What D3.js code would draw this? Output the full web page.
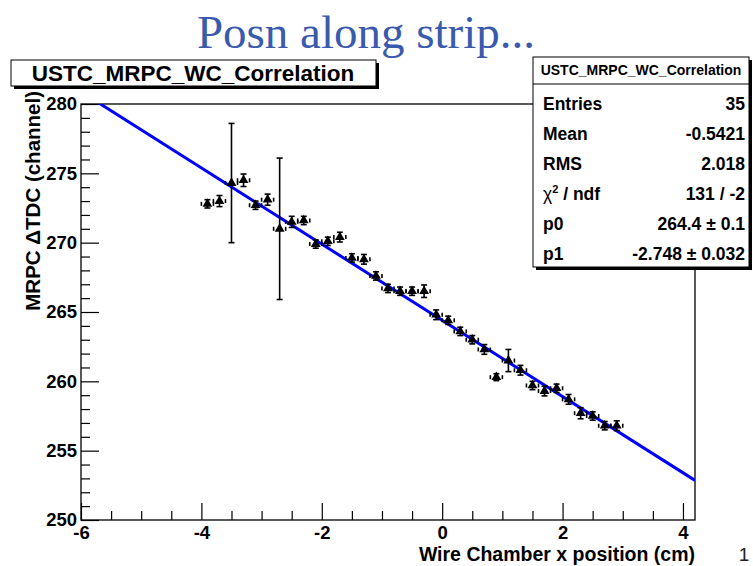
<!DOCTYPE html>
<html><head><meta charset="utf-8">
<script src="https://cdn.jsdelivr.net/npm/d3@7"></script>
<style>body{margin:0;background:#fff;overflow:hidden}</style>
</head><body>
<svg id="c" width="753" height="566"></svg>
<script>
// ---- data ----
const xValues = [-3.9,-3.7,-3.5,-3.3,-3.1,-2.9,-2.7,-2.5,-2.3,-2.1,-1.9,-1.7,-1.5,-1.3,-1.1,-0.9,-0.7,-0.5,-0.3,-0.1,0.1,0.3,0.5,0.7,0.9,1.1,1.3,1.5,1.7,1.9,2.1,2.3,2.5,2.7,2.9];
const yValues = [272.8,273.0,274.3,274.5,272.7,273.1,271.0,271.5,271.6,269.9,270.1,270.4,268.9,268.8,267.6,266.7,266.5,266.5,266.5,264.8,264.4,263.6,263.0,262.3,260.3,261.5,260.8,259.7,259.3,259.5,258.7,257.7,257.5,256.8,256.8];
const yErrors = [0.3,0.4,4.3,0.45,0.3,0.4,5.1,0.4,0.3,0.3,0.3,0.35,0.3,0.35,0.3,0.3,0.3,0.3,0.45,0.35,0.3,0.3,0.3,0.35,0.25,0.8,0.35,0.3,0.35,0.3,0.35,0.4,0.3,0.3,0.35];
const xErrors = xValues.map(() => 0.1);
const xTickLabels = [-6,-4,-2,0,2,4];
const yTickLabels = [250,255,260,265,270,275,280];
const fitP0 = 264.4, fitP1 = -2.748;
const statsLabels = ["Entries","Mean","RMS","χ2 / ndf","p0","p1"];
const statsValues = ["35","-0.5421","2.018","131 / -2","264.4 ± 0.1","-2.748 ± 0.032"];

// ---- layout ----
const svg = d3.select("#c");
const L = 81, R = 695, T = 104, B = 520;
const x = d3.scaleLinear().domain([-6, 4.2]).range([L, R]);
const y = d3.scaleLinear().domain([250, 280]).range([B, T]);
const FONT = "'Liberation Sans', Arial, Helvetica, sans-serif";
const fmt = d => String(d);

svg.append("rect").attr("width",753).attr("height",566).attr("fill","#fff");

// main title
svg.append("text").attr("x",366).attr("y",48).attr("text-anchor","middle")
  .attr("font-family","'Liberation Serif','Times New Roman',serif").attr("font-size",47)
  .attr("fill","#3a5aad").text("Posn along strip...");

// clip
svg.append("clipPath").attr("id","clip").append("rect")
  .attr("x",L).attr("y",T).attr("width",R-L).attr("height",B-T);

// frame
svg.append("rect").attr("x",L).attr("y",T).attr("width",R-L).attr("height",B-T)
  .attr("fill","none").attr("stroke","#000").attr("stroke-width",1.3);

// x axis ticks (inward)
const xMinor = d3.range(-6, 4.21, 0.5).filter(v => !xTickLabels.includes(Math.round(v*10)/10));
const gx = svg.append("g").attr("transform",`translate(0,${B})`)
  .call(d3.axisBottom(x).tickValues(xTickLabels).tickSize(-17).tickPadding(3).tickFormat(fmt));
gx.select(".domain").remove();
gx.selectAll("text").attr("font-family",FONT).attr("font-weight","bold").attr("font-size",18.5).attr("fill","#000").attr("dy","0.85em");
gx.selectAll("line").attr("stroke-width",1.2);
const gxm = svg.append("g").attr("transform",`translate(0,${B})`)
  .call(d3.axisBottom(x).tickValues(xMinor).tickSize(-9).tickFormat(""));
gxm.select(".domain").remove();
gxm.selectAll("line").attr("stroke-width",1.2);

// y axis ticks
const yMinor = d3.range(250, 280.5, 1).filter(v => v % 5 !== 0);
const gy = svg.append("g").attr("transform",`translate(${L},0)`)
  .call(d3.axisLeft(y).tickValues(yTickLabels).tickSize(-18).tickPadding(4).tickFormat(fmt));
gy.select(".domain").remove();
gy.selectAll("text").attr("font-family",FONT).attr("font-weight","bold").attr("font-size",18.5).attr("fill","#000");
gy.selectAll("line").attr("stroke-width",1.2);
const gym = svg.append("g").attr("transform",`translate(${L},0)`)
  .call(d3.axisLeft(y).tickValues(yMinor).tickSize(-9).tickFormat(""));
gym.select(".domain").remove();
gym.selectAll("line").attr("stroke-width",1.2);

// axis titles
svg.append("text").attr("x",R).attr("y",561).attr("text-anchor","end")
  .attr("font-family",FONT).attr("font-weight","bold").attr("font-size",19.5).text("Wire Chamber x position (cm)");
svg.append("text").attr("transform",`translate(40,${T-13}) rotate(-90)`).attr("text-anchor","end")
  .attr("font-family",FONT).attr("font-weight","bold").attr("font-size",20.5)
  .text("MRPC ΔTDC (channel)");

// fit line
const fitX = x.domain();
svg.append("line").attr("clip-path","url(#clip)")
  .attr("x1",x(fitX[0])).attr("y1",y(fitP0+fitP1*fitX[0]))
  .attr("x2",x(fitX[1])).attr("y2",y(fitP0+fitP1*fitX[1]))
  .attr("stroke","#0000ff").attr("stroke-width",3);

// points
const pts = xValues.map((v,i)=>({x:v,y:yValues[i],ey:yErrors[i],ex:xErrors[i]}));
const gp = svg.append("g").attr("clip-path","url(#clip)");
const cap = 3;
pts.forEach(p=>{
  const cx = x(p.x), cy = y(p.y);
  const yt = y(p.y+p.ey), yb = y(p.y-p.ey);
  const xl = x(p.x-p.ex), xr = x(p.x+p.ex);
  gp.append("line").attr("x1",cx).attr("x2",cx).attr("y1",yt).attr("y2",yb).attr("stroke","#000").attr("stroke-width",1.6);
  gp.append("line").attr("x1",cx-cap).attr("x2",cx+cap).attr("y1",yt).attr("y2",yt).attr("stroke","#000").attr("stroke-width",1.6);
  gp.append("line").attr("x1",cx-cap).attr("x2",cx+cap).attr("y1",yb).attr("y2",yb).attr("stroke","#000").attr("stroke-width",1.6);
  gp.append("line").attr("x1",xl).attr("x2",xl).attr("y1",cy-2).attr("y2",cy+2).attr("stroke","#000").attr("stroke-width",1.6);
  gp.append("line").attr("x1",xr).attr("x2",xr).attr("y1",cy-2).attr("y2",cy+2).attr("stroke","#000").attr("stroke-width",1.6);
  gp.append("path").attr("d",d3.symbol(d3.symbolTriangle,42)()).attr("transform",`translate(${cx},${cy})`).attr("fill","#000");
});

// histogram title box
function shadowBox(x0,y0,w,h,sh){
  svg.append("rect").attr("x",x0+sh).attr("y",y0+sh).attr("width",w).attr("height",h).attr("fill","#000");
  svg.append("rect").attr("x",x0).attr("y",y0).attr("width",w).attr("height",h).attr("fill","#fff").attr("stroke","#000").attr("stroke-width",1);
}
shadowBox(11,60,365,26,3);
svg.append("text").attr("x",193).attr("y",81).attr("text-anchor","middle")
  .attr("font-family",FONT).attr("font-weight","bold").attr("font-size",22.5).text("USTC_MRPC_WC_Correlation");

// stats box
const sx0 = 533, sy0 = 57, sw = 216, sh = 210;
shadowBox(sx0, sy0, sw, sh, 3);
svg.append("line").attr("x1",sx0).attr("x2",sx0+sw).attr("y1",84).attr("y2",84).attr("stroke","#000").attr("stroke-width",1);
svg.append("text").attr("x",sx0+sw/2).attr("y",75).attr("text-anchor","middle")
  .attr("font-family",FONT).attr("font-weight","bold").attr("font-size",14).text("USTC_MRPC_WC_Correlation");
const rowY = d3.scaleLinear().domain([0,5]).range([110,260]);
statsLabels.forEach((lab,i)=>{
  const t = svg.append("text").attr("x",543).attr("y",rowY(i)).attr("font-family",FONT).attr("font-weight","bold").attr("font-size",17.5);
  if (lab.startsWith("χ")) {
    t.append("tspan").attr("font-weight","normal").text("χ");
    t.append("tspan").attr("font-size",11).attr("dy",-7).text("2");
    t.append("tspan").attr("dy",7).text(" / ndf");
  } else t.text(lab);
  svg.append("text").attr("x",745).attr("y",rowY(i)).attr("text-anchor","end")
    .attr("font-family",FONT).attr("font-weight","bold").attr("font-size",17.5)
    .text(statsValues[i]);
});

// page number
svg.append("text").attr("x",744).attr("y",561).attr("text-anchor","middle")
  .attr("font-family",FONT).attr("font-size",19).attr("fill","#222").text("1");
</script>
</body></html>
